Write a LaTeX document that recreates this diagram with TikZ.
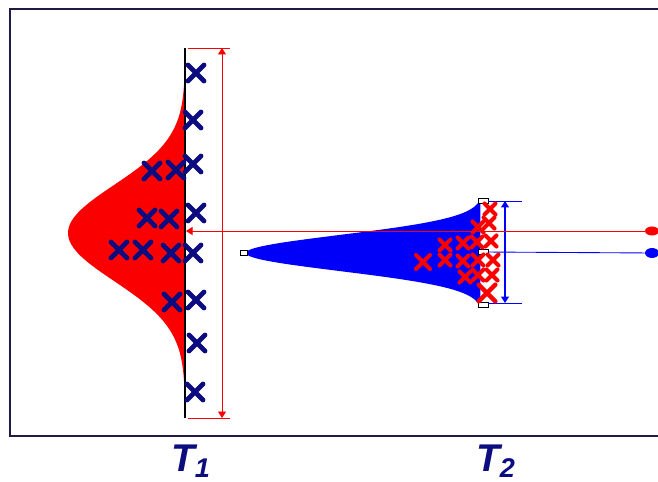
\documentclass[tikz,border=0pt]{standalone}
\usepackage{fontspec}
\newfontfamily\labelfont{Liberation Sans}
\usepackage{tikz}
\usetikzlibrary{arrows.meta, shapes.misc, shapes.geometric, positioning}

\definecolor{navy}{RGB}{12,12,128}
\definecolor{framecol}{RGB}{28,28,72}
\definecolor{distblue}{RGB}{0,0,250}
\definecolor{distred}{RGB}{250,0,0}

\begin{document}
\begin{tikzpicture}[x=0.02cm, y=-0.02cm,
    bmark/.style={cross out, draw=navy, line width=2.8pt, line cap=round, minimum size=0.22cm, inner sep=0pt},
    rmark/.style={cross out, draw=distred, line width=2.3pt, line cap=round, minimum size=0.14cm, inner sep=0pt},
    redline/.style={draw=distred, line width=0.5pt},
    blueline/.style={draw=distblue, line width=0.5pt},
    ptip/.tip={Triangle[width=1.6mm, length=1.3mm]},
    reddot/.style={ellipse, fill=distred, minimum width=0.28cm, minimum height=0.18cm, inner sep=0pt},
    bluedot/.style={ellipse, fill=distblue, minimum width=0.28cm, minimum height=0.2cm, inner sep=0pt},
    tickbox/.style={rectangle, draw=black, fill=white, line width=0.5pt, minimum width=0.2cm, minimum height=0.1cm, inner sep=0pt},
    tlabel/.style={text=navy, font=\labelfont\bfseries\itshape\fontsize{22}{24}\selectfont}]
    \useasboundingbox (0,0) rectangle (658,482);

    % Frame (open on the right)
    \draw[framecol, line width=1.2pt] (658,9) -- (10,9) -- (10,436) -- (658,436);

    % T1: wide red distribution
    \fill[distred] plot[domain=82:384, samples=90] ({185-117*exp(-0.5*((\x-233)/48)^2)}, \x) -- cycle;
    \draw[black, line width=1.2pt] (185,48) -- (185,418);

    % T2: narrow blue distribution
    \fill[distblue] plot[domain=199:307, samples=90] ({483-237*exp(-0.5*((\x-253)/18)^2)}, \x) -- cycle;
    \node[tickbox, minimum width=0.15cm] (tail) at (244,253) {};
    \node[tickbox] (b2top) at (483,201) {};
    \node[tickbox] (b2mid) at (483,252) {};
    \node[tickbox] (b2bot) at (483,305) {};

    % Spread of T1
    \coordinate (r1top) at (222,48);
    \coordinate (r1bot) at (222,418);
    \draw[redline] (188,48) -- (230,48);
    \draw[redline] (188,418) -- (230,418);
    \draw[redline, ptip-ptip] (r1top) -- (r1bot);

    % Spread of T2
    \coordinate (b2up) at (505,201);
    \coordinate (b2low) at (505,303);
    \draw[blueline] (488,201) -- (522,201);
    \draw[blueline] (488,303) -- (522,303);
    \draw[blueline, line width=0.8pt, ptip-ptip] (b2up) -- (b2low);

    % Means carried to the right
    \node[reddot] (rdot) at (652,231) {};
    \node[bluedot] (bdot) at (652,253) {};
    \coordinate (r1mid) at (186,231);
    \draw[redline, -ptip] (rdot) -- (r1mid);
    \draw[blueline] (b2mid) -- (bdot);

    % Samples of T1
    \foreach \px/\py [count=\i] in {196/73, 193/120, 193/164, 196/213, 193/253, 196/300, 197/343, 195/392,
                                    152/171, 176/170, 147/218, 169/219, 119/250, 143/250, 171/253, 172/302} {
        \node[bmark] (s1\i) at (\px,\py) {};
    }

    % Samples of T2
    \foreach \px/\py [count=\i] in {490/209, 489/223, 478/227, 445/245, 463/243, 477/242, 491/241,
                                    445/260, 463/261, 478/260, 493/260, 465/277, 478/275, 492/275} {
        \node[rmark] (s2\i) at (\px,\py) {};
    }
    \node[rmark, minimum size=0.2cm] (s2big) at (423,262) {};
    \node[rmark, minimum size=0.24cm, line width=2.6pt] (s2low) at (487,293) {};

    % Labels
    \node[tlabel] (t1) at (191,461) {T\textsubscript{1}};
    \node[tlabel] (t2) at (496,461) {T\textsubscript{2}};
\end{tikzpicture}
\end{document}
